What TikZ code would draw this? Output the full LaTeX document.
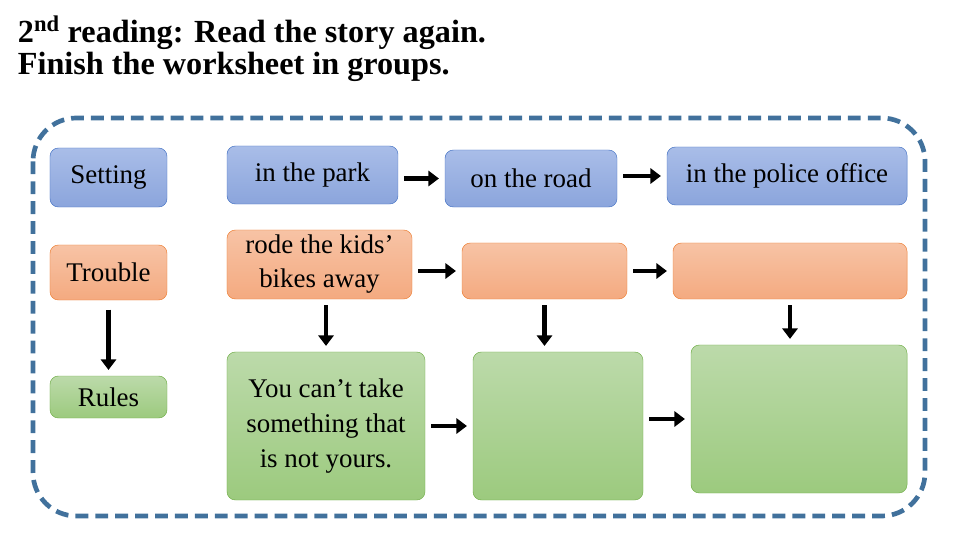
\documentclass[tikz,border=0pt]{standalone}
\usepackage{fontspec}
\setmainfont{Liberation Serif}
\usetikzlibrary{arrows.meta,positioning}
\definecolor{frameblue}{HTML}{41719C}
\definecolor{bluetop}{HTML}{A9BDE8}
\definecolor{bluebot}{HTML}{8BA5DC}
\definecolor{blueline}{HTML}{4472C4}
\definecolor{orangetop}{HTML}{F7C3A5}
\definecolor{orangebot}{HTML}{F4AA80}
\definecolor{orangeline}{HTML}{ED7D31}
\definecolor{greentop}{HTML}{BCDAAA}
\definecolor{greenbot}{HTML}{9CCA7E}
\definecolor{greenline}{HTML}{70AD47}
\begin{document}
\begin{tikzpicture}[
        x=0.03cm, y=-0.03cm,
        every node/.style={
                rounded corners=0.25cm,
                inner sep=0.05cm,
                align=center,
                font=\fontsize{23}{29}\selectfont
            },
        blue box/.style={
                draw=blueline,
                top color=bluetop, bottom color=bluebot
            },
        orange box/.style={
                draw=orangeline,
                top color=orangetop, bottom color=orangebot
            },
        green box/.style={
                draw=greenline,
                top color=greentop, bottom color=greenbot
            },
        big arrow/.style={
                line width=3.5pt,
                -{Triangle[length=9pt,width=13pt]},
                shorten >=5pt,
                shorten <=5pt
            },
        title/.style={
                anchor=west,
                font=\fontsize{27.5}{32}\selectfont\bfseries
            }
    ]
    \useasboundingbox (0,0) rectangle (960,540);

    % Title
    \node[title] (line1) at (16,33) {2\textsuperscript{nd} reading: Read the story again.};
    \node[title] (line2) at (16,67) {Finish the worksheet in groups.};

    % Frame
    \draw[frameblue, line width=4pt, dash pattern=on 11pt off 6pt, rounded corners=1.3cm]
        (33,118) rectangle (925,516);

    % Row labels
    \node[blue box, minimum width=3.51cm, minimum height=1.77cm] (setting) at (108.5,177.5) {Setting};
    \node[orange box, minimum width=3.51cm, minimum height=1.65cm] (trouble) at (108.5,272.5) {Trouble};
    \node[green box, minimum width=3.51cm, minimum height=1.26cm] (rules) at (108.5,397) {Rules};

    % Setting row
    \node[blue box, minimum width=5.13cm, minimum height=1.74cm] (park) at (312.5,175) {in the park};
    \node[blue box, minimum width=5.16cm, minimum height=1.71cm] (road) at (531,178.5) {on the road};
    \node[blue box, minimum width=7.2cm, minimum height=1.74cm] (police) at (787,176) {in the police office};

    % Trouble row
    \node[orange box, minimum width=5.55cm, minimum height=2.07cm] (rode) at (319.5,264.5) {rode the kids'\\bikes away};
    \node[orange box, minimum width=4.95cm, minimum height=1.68cm] (trouble2) at (544.5,271) {};
    \node[orange box, minimum width=7.02cm, minimum height=1.68cm] (trouble3) at (790,271) {};

    % Rules row
    \node[green box, minimum width=5.94cm, minimum height=4.44cm, font=\fontsize{23}{30}\selectfont] (cant) at (326,426) {You can't take\\something that\\is not yours.};
    \node[green box, minimum width=5.1cm, minimum height=4.44cm] (rule2) at (558,426) {};
    \node[green box, minimum width=6.48cm, minimum height=4.44cm] (rule3) at (799,419) {};

    % Arrows
    \draw[big arrow] (park.east |- road) -- (road.west);
    \draw[big arrow] (road.east |- police) -- (police.west);
    \draw[big arrow] (rode.east |- trouble2) -- (trouble2.west);
    \draw[big arrow] (trouble2) -- (trouble3);
    \draw[big arrow] (cant) -- (rule2);
    \draw[big arrow] (rule2.east |- rule3) -- (rule3.west);
    \draw[big arrow, shorten <=8pt] (trouble) -- (rules);
    \draw[big arrow] (rode.south -| cant) -- (cant.north);
    \draw[big arrow] (trouble2) -- (trouble2 |- rule2.north);
    \draw[big arrow] (trouble3) -- (trouble3 |- rule3.north);

\end{tikzpicture}
\end{document}
